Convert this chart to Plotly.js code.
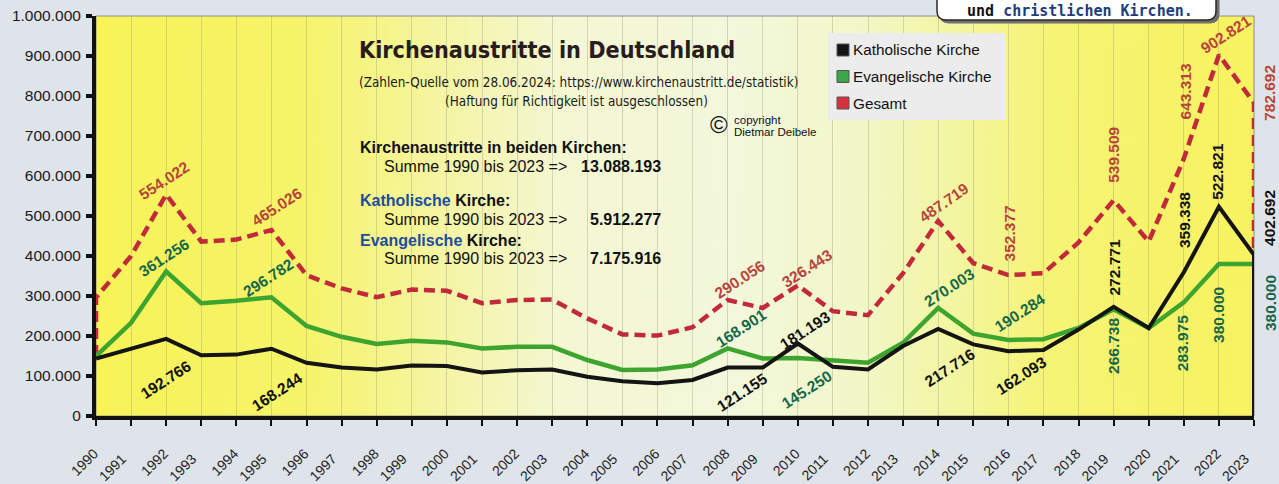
<!DOCTYPE html>
<html><head><meta charset="utf-8">
<script src="https://cdn.plot.ly/plotly-3.0.1.min.js"></script>
<style>html,body{margin:0;padding:0;background:#dfe3ea;}#chart{width:1279px;height:484px;}</style>
</head><body><div id="chart"></div>
<script>
// ---------- data ----------
const years = [1990,1991,1992,1993,1994,1995,1996,1997,1998,1999,2000,2001,2002,2003,2004,2005,2006,2007,2008,2009,2010,2011,2012,2013,2014,2015,2016,2017,2018,2019,2020,2021,2022,2023];
const katholisch = [143500,167000,192766,152000,153500,168244,133000,121000,116500,126000,125000,109000,114500,116000,98000,87000,82000,90000,121155,121000,181193,123000,116500,175000,217716,179000,162093,165000,216000,272771,220000,359338,522821,402692];
const evangelisch = [150000,233000,361256,282000,288000,296782,225000,198000,180000,188000,184000,169000,173000,173000,140000,115000,116000,127000,168901,144000,145250,138000,133000,183000,270003,206000,190284,192000,220000,266738,220000,283975,380000,380000];
const gesamt = [296000,400000,554022,436000,441000,465026,352000,319000,297000,316000,313000,282000,290000,291000,244000,204000,201000,222000,290056,270000,326443,262000,252000,357000,487719,382000,352377,357000,434000,539509,436000,643313,902821,782692];
const labelYears = [1992,1995,2008,2010,2014,2016,2019,2021,2022,2023];
const seriesNames = ['Katholische Kirche','Evangelische Kirche','Gesamt'];
const yTicks = [0,100000,200000,300000,400000,500000,600000,700000,800000,900000,1000000];
const sumBeide = '13.088.193';
const sumKath = '5.912.277';
const sumEv = '7.175.916';

// ---------- styling / layout helpers ----------
const L = 96, R = 1254, T = 16, B = 416;
const W = R - L, H = B - T;
const PX = x => (x - L) / W;
const PY = y => (B - y) / H;
const fmt = n => String(n).replace(/\B(?=(\d{3})+(?!\d))/g, '.');
const colK = '#141414', colE = '#3da52f', colG = '#c22a3c';
const txtK = '#111111', txtE = '#17684a', txtG = '#b8453b';
const sansF = 'Liberation Sans, Arial, sans-serif';
const condF = 'DejaVu Sans Condensed, DejaVu Sans, sans-serif';

// label offsets (dx px right, dy px up, angle) in labelYears order
const offG = [[-2,14,-33],[6,23,-33],[12,20,-33],[9,17,-33],[6,18,-35],[1,42,-90],[0,45,-90],[2,67,-90],[7,20,-33],[16,10,-90]];
const offE = [[-2,14,-33],[-3,20,-33],[13,20,-33],[9,-32,-33],[11,21,-33],[12,27,-33],[0,-37,-90],[-1,-41,-90],[-1,-51,-90],[16,-39,-90]];
const offK = [[0,-41,-33],[6,-43,-33],[14,-25,-33],[7,13,-33],[12,-39,-33],[13,-24,-33],[1,39,-90],[0,52,-90],[-1,35,-90],[16,37,-90]];

// background gradient image
const cv = document.createElement('canvas'); cv.width = W; cv.height = 8;
const cx = cv.getContext('2d');
const gr = cx.createLinearGradient(0,0,W,0);
[[0,'#f7f358'],[0.18,'#f6f46a'],[0.3,'#f5f5a4'],[0.4,'#f4f7d2'],[0.55,'#f3f8dc'],[0.66,'#f2f7c8'],[0.74,'#f3f6a2'],[0.82,'#f6f476'],[1,'#f7f360']].forEach(s=>gr.addColorStop(s[0],s[1]));
cx.fillStyle = gr; cx.fillRect(0,0,W,8);
const bgUrl = cv.toDataURL();

// ---------- traces ----------
const last = years.length - 1;
const traces = [
  {x:[years[0]].concat(years,[years[last]]), y:[evangelisch[0]].concat(gesamt,[katholisch[last]]),
   mode:'lines', line:{color:colG, width:4.5, dash:'11px,6px'}, name:seriesNames[2], showlegend:false},
  {x:years, y:evangelisch, mode:'lines', line:{color:colE, width:4.5}, name:seriesNames[1], showlegend:false},
  {x:years.concat([years[last]]), y:katholisch.concat([0]), mode:'lines', line:{color:colK, width:4}, name:seriesNames[0], showlegend:false}
];

// ---------- annotations ----------
const ann = [];
function addLabels(vals, offs, color){
  labelYears.forEach((yr,i)=>{
    const idx = years.indexOf(yr);
    ann.push({x:yr, y:vals[idx], xref:'x', yref:'y', showarrow:false, text:'<b>'+fmt(vals[idx])+'</b>',
      xshift:offs[i][0], yshift:offs[i][1], textangle:offs[i][2], xanchor:'center', yanchor:'middle',
      font:{family:sansF, size:15.5, color:color}});
  });
}
addLabels(gesamt, offG, txtG);
addLabels(evangelisch, offE, txtE);
addLabels(katholisch, offK, txtK);

function txt(px, py, text, size, opts){
  ann.push(Object.assign({x:PX(px), y:PY(py), xref:'paper', yref:'paper', showarrow:false, text:text,
    xanchor:'left', yanchor:'middle', font:{family:sansF, size:size, color:'#111'}}, opts||{}));
}
const blue = '#1f4c9c';
txt(357, 50, '<b>Kirchenaustritte in Deutschland</b>', 23, {font:{family:condF, size:23.2, color:'#2a1c1c'}});
txt(357, 82, '(Zahlen-Quelle vom 28.06.2024: https://www.kirchenaustritt.de/statistik)', 13, {font:{family:condF, size:13.4, color:'#1a1a1a'}});
txt(576, 101, '(Haftung für Richtigkeit ist ausgeschlossen)', 13, {xanchor:'center', font:{family:condF, size:13.4, color:'#1a1a1a'}});
txt(719, 125, '©', 24, {xanchor:'center', font:{family:sansF, size:24, color:'#111'}});
txt(732, 120, 'copyright', 11.5);
txt(732, 132, 'Dietmar Deibele', 11.5);
txt(358, 147, '<b>Kirchenaustritte in beiden Kirchen:</b>', 16);
txt(382, 166, 'Summe 1990 bis 2023 =>', 16);
txt(663, 166, '<b>'+sumBeide+'</b>', 16, {xanchor:'right'});
txt(358, 200, '<b><span style="color:'+blue+'">Katholische</span> Kirche:</b>', 16);
txt(382, 219, 'Summe 1990 bis 2023 =>', 16);
txt(663, 219, '<b>'+sumKath+'</b>', 16, {xanchor:'right'});
txt(358, 240, '<b><span style="color:'+blue+'">Evangelische</span> Kirche:</b>', 16);
txt(382, 258, 'Summe 1990 bis 2023 =>', 16);
txt(663, 258, '<b>'+sumEv+'</b>', 16, {xanchor:'right'});

// legend texts
const legY = [50, 76.5, 103];
const legCol = [colK, '#3aa84a', '#d9303f'];
seriesNames.forEach((n,i)=>txt(851, legY[i], n, 15.3));

// bubble text
txt(1080, 11, '<b>und <span style="color:#1d3f7a">christlichen Kirchen.</span></b>', 15, {xanchor:'center', font:{family:'DejaVu Sans Mono, monospace', size:15, color:'#111'}});

// ---------- shapes ----------
const shapes = [];
shapes.push({type:'rect', xref:'paper', yref:'paper', x0:0, x1:1, y0:0, y1:1, line:{color:'#8c8c8c', width:1}, layer:'below'});
shapes.push({type:'rect', xref:'paper', yref:'paper', x0:PX(828), x1:PX(1005), y0:PY(120), y1:PY(33), fillcolor:'#ececec', line:{width:0}, layer:'above'});
legY.forEach((yy,i)=>shapes.push({type:'rect', xref:'paper', yref:'paper', x0:PX(837), x1:PX(849), y0:PY(yy+6), y1:PY(yy-6), fillcolor:legCol[i], line:{color:'#555', width:1}, layer:'above'}));
function bubble(x0,x1,y0,y1,r,fill,lineCol,lw){
  const a=PX(x0), b=PX(x1), top=PY(y0), bot=PY(y1), rx=r/W, ry=r/H;
  const p = `M ${a},${top} L ${a},${bot+ry} Q ${a},${bot} ${a+rx},${bot} L ${b-rx},${bot} Q ${b},${bot} ${b},${bot+ry} L ${b},${top} Z`;
  return {type:'path', xref:'paper', yref:'paper', path:p, fillcolor:fill, line:{color:lineCol, width:lw}, layer:'above'};
}
shapes.push(bubble(940,1219,-6,23,9,'#6f6f6f','#6f6f6f',1));
shapes.push(bubble(937,1216,-6,20,9,'#ffffff','#2a2a2a',1.5));

const oddYears = years.filter(y=>y%2===1);

const layout = {
  width:1279, height:484,
  margin:{l:L, r:1279-R, t:T, b:484-B, pad:0},
  paper_bgcolor:'#dfe3ea', plot_bgcolor:'rgba(0,0,0,0)',
  separators:',.',
  showlegend:false,
  images:[{source:bgUrl, xref:'paper', yref:'paper', x:0, y:1, sizex:1, sizey:1, sizing:'stretch', xanchor:'left', yanchor:'top', layer:'below'}],
  xaxis:{range:[1990,2023], tickvals:years, ticktext:years.map(y=>y%2===0?String(y):''), tickangle:-45,
    ticks:'outside', ticklen:6, tickwidth:2, tickcolor:'#111', showline:true, linewidth:4, linecolor:'#111',
    showgrid:true, gridcolor:'rgba(150,150,120,0.35)', gridwidth:1, zeroline:false,
    tickfont:{family:sansF, size:14, color:'#222'}, ticklabelstandoff:14, ticklabelshift:-2},
  xaxis2:{range:[1990,2023], overlaying:'x', anchor:'y', side:'bottom', tickvals:oddYears, ticktext:oddYears.map(String), tickangle:-45,
    ticks:'', showline:false, showgrid:false, zeroline:false,
    tickfont:{family:sansF, size:14, color:'#222'}, ticklabelstandoff:31, ticklabelshift:-9},
  yaxis:{range:[0,1000000], tickvals:yTicks, tickformat:',d', ticks:'outside', ticklen:6, tickwidth:4, tickcolor:'#111',
    showline:true, linewidth:4, linecolor:'#111', showgrid:false, zeroline:false,
    tickfont:{family:sansF, size:15.5, color:'#1a1a1a'}, ticklabelstandoff:2},
  annotations:ann, shapes:shapes, hovermode:false
};
traces.push({x:years, y:katholisch, xaxis:'x2', yaxis:'y', mode:'lines', line:{width:0, color:'rgba(0,0,0,0)'}, showlegend:false, hoverinfo:'skip'});
Plotly.newPlot('chart', traces, layout, {staticPlot:true});
</script></body></html>
